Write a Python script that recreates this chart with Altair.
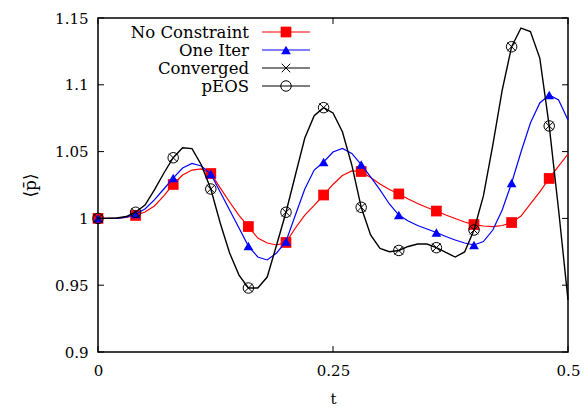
import altair as alt
import pandas as pd

# ---------------- data ----------------
t = [0.00, 0.01, 0.02, 0.03, 0.04, 0.05, 0.06, 0.07, 0.08, 0.09,
     0.10, 0.11, 0.12, 0.13, 0.14, 0.15, 0.16, 0.17, 0.18, 0.19,
     0.20, 0.21, 0.22, 0.23, 0.24, 0.25, 0.26, 0.27, 0.28, 0.29,
     0.30, 0.31, 0.32, 0.33, 0.34, 0.35, 0.36, 0.37, 0.38, 0.39,
     0.40, 0.41, 0.42, 0.43, 0.44, 0.45, 0.46, 0.47, 0.48, 0.49, 0.50]

no_constraint = [1.0000, 1.0000, 1.0000, 1.0007, 1.0022, 1.0048, 1.0093, 1.0168, 1.0254, 1.0325,
                 1.0362, 1.0370, 1.0336, 1.0228, 1.0123, 1.0022, 0.9939, 0.9853, 0.9816, 0.9801,
                 0.9820, 0.9928, 1.0025, 1.0097, 1.0175, 1.0254, 1.0321, 1.0355, 1.0351, 1.0306,
                 1.0257, 1.0216, 1.0183, 1.0145, 1.0112, 1.0082, 1.0055, 1.0025, 0.9999, 0.9973,
                 0.9954, 0.9943, 0.9939, 0.9947, 0.9969, 1.0018, 1.0108, 1.0198, 1.0299, 1.0392, 1.0482]

one_iter = [1.0000, 1.0000, 1.0000, 1.0010, 1.0033, 1.0070, 1.0138, 1.0220, 1.0302, 1.0377,
            1.0411, 1.0392, 1.0332, 1.0198, 1.0063, 0.9928, 0.9793, 0.9711, 0.9689, 0.9741,
            0.9827, 1.0025, 1.0220, 1.0362, 1.0422, 1.0497, 1.0523, 1.0486, 1.0403, 1.0310,
            1.0213, 1.0108, 1.0025, 0.9981, 0.9947, 0.9921, 0.9894, 0.9865, 0.9838, 0.9816,
            0.9801, 0.9827, 0.9913, 1.0063, 1.0265, 1.0497, 1.0714, 1.0864, 1.0924, 1.0886, 1.0737]

converged = [1.0000, 1.0000, 1.0003, 1.0014, 1.0046, 1.0100, 1.0213, 1.0338, 1.0454, 1.0529,
             1.0522, 1.0400, 1.0220, 0.9966, 0.9741, 0.9576, 0.9479, 0.9479, 0.9561, 0.9801,
             1.0046, 1.0325, 1.0602, 1.0769, 1.0829, 1.0789, 1.0649, 1.0400, 1.0083, 0.9876,
             0.9776, 0.9751, 0.9760, 0.9790, 0.9808, 0.9808, 0.9781, 0.9745, 0.9711, 0.9749,
             0.9913, 1.0168, 1.0549, 1.0961, 1.1285, 1.1425, 1.1399, 1.1200, 1.0692, 1.0063, 0.9390]

peos_t = [0.00, 0.04, 0.08, 0.12, 0.16, 0.20, 0.24, 0.28, 0.32, 0.36, 0.40, 0.44, 0.48]
peos = [1.0000, 1.0046, 1.0454, 1.0220, 0.9479, 1.0046, 1.0829, 1.0083, 0.9760, 0.9781,
        0.9913, 1.1285, 1.0692]

x_ticks = [0, 0.25, 0.5]
y_ticks = [0.9, 0.95, 1, 1.05, 1.1, 1.15]

legend_labels = ["No Constraint", "One Iter", "Converged", "pEOS"]

# ---------------- layout ----------------
W, H = 470, 334
FONT = "DejaVu Serif"
RED, BLUE, BLACK = "#ff0000", "#0000ff", "#000000"
X_SHAPE = "M-1,-1L1,1M-1,1L1,-1"

df = pd.DataFrame({"t": t, "nc": no_constraint, "oi": one_iter, "cv": converged})
mk = df.iloc[::4]
pe = pd.DataFrame({"t": peos_t, "p": peos})

xs = alt.Scale(domain=[0, 0.5], nice=False, zero=False)
ys = alt.Scale(domain=[0.9, 1.15], nice=False, zero=False)

x_axis = alt.Axis(values=x_ticks, labelExpr="toString(datum.value)", title="t", labelPadding=11,
                  titleY=46, titleBaseline="middle", labelFlush=False)
y_axis = alt.Axis(values=y_ticks, labelExpr="toString(datum.value)", title="\u27e8p\u0304\u27e9",
                  labelPadding=10, titleX=-68, titleY=H / 2, titleBaseline="middle",
                  titleAlign="center", titleAngle=270, titleFontSize=17, labelFlush=False)


def X(field="t"):
    return alt.X(f"{field}:Q", scale=xs, axis=x_axis)


def Y(field):
    return alt.Y(f"{field}:Q", scale=ys, axis=y_axis)


layers = []

# red: No Constraint
layers.append(alt.Chart(df).mark_line(color=RED, strokeWidth=1.2).encode(x=X(), y=Y("nc")))
layers.append(alt.Chart(mk).mark_point(shape="square", filled=True, color=RED, opacity=1,
                                       size=115).encode(x=X(), y=Y("nc")))
# blue: One Iter
layers.append(alt.Chart(df).mark_line(color=BLUE, strokeWidth=1.2).encode(x=X(), y=Y("oi")))
layers.append(alt.Chart(mk).mark_point(shape="triangle-up", filled=True, color=BLUE, opacity=1,
                                       size=95).encode(x=X(), y=Y("oi")))
# black: Converged
layers.append(alt.Chart(df).mark_line(color=BLACK, strokeWidth=1.4).encode(x=X(), y=Y("cv")))
layers.append(alt.Chart(mk).mark_point(shape=X_SHAPE, filled=False, color=BLACK, opacity=1,
                                       strokeWidth=1, size=72).encode(x=X(), y=Y("cv")))
# pEOS circles
layers.append(alt.Chart(pe).mark_point(shape="circle", filled=False, color=BLACK, opacity=1,
                                       strokeWidth=1, size=110).encode(x=X(), y=Y("p")))

# inward ticks (mirrored)
ydf = pd.DataFrame({"v": y_ticks})
xdf = pd.DataFrame({"v": x_ticks})
layers.append(alt.Chart(ydf).mark_rule(color=BLACK, strokeWidth=1).encode(
    y=Y("v"), x=alt.value(0), x2=alt.value(6)))
layers.append(alt.Chart(ydf).mark_rule(color=BLACK, strokeWidth=1).encode(
    y=Y("v"), x=alt.value(W), x2=alt.value(W - 6)))
layers.append(alt.Chart(xdf).mark_rule(color=BLACK, strokeWidth=1).encode(
    x=X("v"), y=alt.value(H), y2=alt.value(H - 6)))
layers.append(alt.Chart(xdf).mark_rule(color=BLACK, strokeWidth=1).encode(
    x=X("v"), y=alt.value(0), y2=alt.value(6)))

# legend (gnuplot style: label, then line sample with marker)
leg_style = [
    (RED, "square", True, 115, 1.2),
    (BLUE, "triangle-up", True, 95, 1.2),
    (BLACK, X_SHAPE, False, 72, 1.2),
    (BLACK, "circle", False, 110, 1.2),
]
row_y = [14, 32, 50, 68]
for lab, (col, shp, fil, sz, sw), ry in zip(legend_labels, leg_style, row_y):
    ldf = pd.DataFrame({"label": [lab]})
    layers.append(alt.Chart(ldf).mark_text(align="right", baseline="middle", font=FONT,
                                           fontSize=16.5, color=BLACK).encode(
        x=alt.value(151), y=alt.value(ry + 1), text="label:N"))
    layers.append(alt.Chart(ldf).mark_rule(color=col, strokeWidth=sw).encode(
        x=alt.value(164), x2=alt.value(212), y=alt.value(ry)))
    layers.append(alt.Chart(ldf).mark_point(shape=shp, filled=fil, color=col, opacity=1,
                                            strokeWidth=1, size=sz).encode(
        x=alt.value(188), y=alt.value(ry)))

chart = alt.layer(*layers).properties(
    width=W, height=H,
    autosize=alt.AutoSizeParams(type="none"),
    padding={"left": 98, "top": 18, "right": 16, "bottom": 55},
    background="white",
).configure_view(
    stroke=BLACK, strokeWidth=1.5
).configure_axis(
    domain=False, ticks=False, tickSize=0, grid=False,
    labelFont=FONT, labelFontSize=15, labelColor=BLACK,
    titleFont=FONT, titleFontSize=15, titleColor=BLACK, titleFontWeight="normal",
)

chart.save("out.html", embed_options={"renderer": "svg", "actions": False})
